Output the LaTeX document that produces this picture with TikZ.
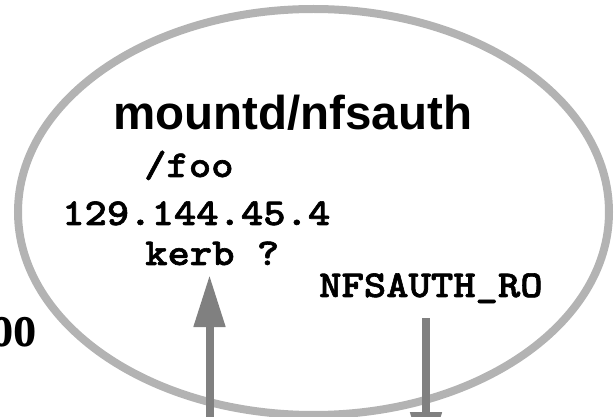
\documentclass[tikz,border=0pt]{standalone}
\usepackage{fontspec}
\setmainfont{Liberation Serif}
\newfontfamily\titlefont{Liberation Sans}
\newfontfamily\codefont{lmmonolt10-bold.otf}[FakeBold=1.6, FakeStretch=1.12]
\usetikzlibrary{arrows.meta}
\definecolor{ringgray}{HTML}{B3B3B3}
\definecolor{flowgray}{HTML}{808080}
\tikzset{
  ring/.style={draw=ringgray, line width=8pt},
  codetext/.style={inner sep=0pt, anchor=base west,
    font=\codefont\fontsize{38}{38}\selectfont},
  flow/.style={draw=flowgray, line width=8pt,
    -{Triangle[length=52pt,width=30pt]}},
}
\begin{document}
\begin{tikzpicture}[x=1pt,y=-1pt]
  \useasboundingbox (0,0) rectangle (614,417);
  \clip (0,0) rectangle (614,417);
  % the daemon
  \draw[ring] (313.5,212) ellipse [x radius=295.5, y radius=203];
  \node[inner sep=0pt, anchor=base west,
        font=\titlefont\bfseries\fontsize{47.5}{47.5}\selectfont]
        (title) at (113,130) {mountd/nfsauth};
  \node[codetext] (path) at (144,177) {/foo};
  \node[codetext] (addr) at (62,225) {129.144.45.4};
  \node[codetext] (kerb) at (145,265) {kerb ?};
  \node[codetext] (reply) at (319,297) {NFSAUTH\_RO};
  % partly visible label on the left
  \node[inner sep=0pt, anchor=base east,
        font=\bfseries\fontsize{62}{62}\selectfont]
        (client) at (37,346) {\scalebox{0.75}[1]{oo}};
  % request in, answer out
  \coordinate (reqfrom) at (209.5,430);
  \coordinate (reqto) at (209.5,275);
  \coordinate (ansfrom) at (426,318);
  \coordinate (ansto) at (426,464);
  \draw[flow] (reqfrom) -- (reqto);
  \draw[flow] (ansfrom) -- (ansto);
\end{tikzpicture}
\end{document}
